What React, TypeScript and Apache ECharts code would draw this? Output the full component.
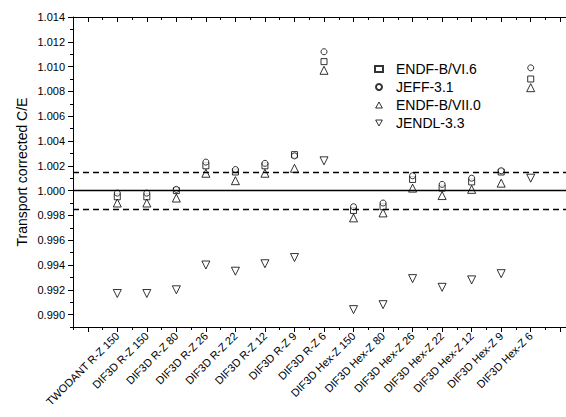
import React, { useEffect, useRef } from "react";
import * as echarts from "echarts";

const categories = [
  "TWODANT R-Z 150",
  "DIF3D R-Z 150",
  "DIF3D R-Z 80",
  "DIF3D R-Z 26",
  "DIF3D R-Z 22",
  "DIF3D R-Z 12",
  "DIF3D R-Z 9",
  "DIF3D R-Z 6",
  "DIF3D Hex-Z 150",
  "DIF3D Hex-Z 80",
  "DIF3D Hex-Z 26",
  "DIF3D Hex-Z 22",
  "DIF3D Hex-Z 12",
  "DIF3D Hex-Z 9",
  "DIF3D Hex-Z 6",
];

const endfb6 = [0.9995, 0.9995, 1.0, 1.002, 1.0015, 1.002, 1.0029, 1.0104, 0.9984, 0.9987, 1.0009, 1.0002, 1.0007, 1.0015, 1.009];
const jeff31 = [0.9998, 0.9998, 1.0001, 1.0023, 1.0017, 1.0022, 1.0028, 1.0112, 0.9987, 0.999, 1.0012, 1.0005, 1.001, 1.0016, 1.0099];
const endfb7 = [0.999, 0.999, 0.9994, 1.0014, 1.0008, 1.0014, 1.0018, 1.0097, 0.9978, 0.9982, 1.0002, 0.9996, 1.0001, 1.0006, 1.0083];
const jendl33 = [0.9917, 0.9917, 0.992, 0.994, 0.9935, 0.9941, 0.9946, 1.0024, 0.9904, 0.9908, 0.9929, 0.9922, 0.9928, 0.9933, 1.001];

const yLabelValues = [0.99, 0.992, 0.994, 0.996, 0.998, 1.0, 1.002, 1.004, 1.006, 1.008, 1.01, 1.012, 1.014];
const xLabelValues = [1, 2, 3, 4, 5, 6, 7, 8, 9, 10, 11, 12, 13, 14, 15];

const referenceLine = 1.0;
const bandLines = [1.0015, 0.9985];

const FONT = "'Liberation Sans', Arial, sans-serif";

export default function App() {
  const ref = useRef<HTMLDivElement>(null);
  useEffect(() => {
    if (!ref.current) return;
    const chart = echarts.init(ref.current, undefined, { renderer: "svg" });
    const black = "#000";
    const xMin = -0.5;
    const xMax = 16.5;
    const mk = (vals: number[]) => vals.map((v, i) => [i + 1, v]);
    const hLine = (y: number, type: any, width: number) => [
      { coord: [xMin, y], lineStyle: { color: black, width, type } },
      { coord: [xMax, y] },
    ];
    const baseX = {
      type: "value",
      min: xMin,
      max: xMax,
      interval: 1,
      splitLine: { show: false },
      minorSplitLine: { show: false },
    };
    const option: any = {
      animation: false,
      backgroundColor: "#fff",
      textStyle: { fontFamily: FONT },
      grid: { left: 73, top: 17, width: 502, height: 310, containLabel: false, outerBoundsMode: "none" },
      legend: {
        orient: "vertical",
        left: 369,
        top: 57,
        itemWidth: 8,
        itemHeight: 6,
        itemGap: 4,
        textStyle: { fontSize: 14, color: black, fontFamily: FONT, lineHeight: 14, padding: [0, 0, 0, 8] },
        data: [
          { name: "ENDF-B/VI.6" },
          { name: "JEFF-3.1" },
          { name: "ENDF-B/VII.0", icon: "path://M5,0L10,9L0,9Z", itemStyle: { color: "#fff", borderColor: black, borderWidth: 1 } },
          { name: "JENDL-3.3", icon: "path://M0,0L10,0L5,9Z", itemStyle: { color: "#fff", borderColor: black, borderWidth: 1 } },
        ],
      },
      xAxis: [
        {
          ...baseX,
          position: "bottom",
          axisLine: { show: true, onZero: false, lineStyle: { color: black, width: 1 } },
          axisTick: { show: true, length: 3, inside: false, lineStyle: { color: black, width: 1 } },
          minorTick: { show: true, splitNumber: 2, length: 5, lineStyle: { color: black, width: 1 } },
          axisLabel: {
            show: true,
            customValues: xLabelValues,
            rotate: 45,
            margin: 7,
            fontSize: 11,
            color: black,
            fontFamily: FONT,
            formatter: (v: number) => categories[Math.round(v) - 1] ?? "",
          },
        },
        {
          ...baseX,
          position: "top",
          axisLine: { show: true, onZero: false, lineStyle: { color: black, width: 1 } },
          axisTick: { show: true, length: 3, inside: true, lineStyle: { color: black, width: 1 } },
          minorTick: { show: true, splitNumber: 2, length: 5, lineStyle: { color: black, width: 1 } },
          axisLabel: { show: false },
        },
      ],
      yAxis: [
        {
          type: "value",
          min: 0.989,
          max: 1.014,
          interval: 0.002,
          position: "left",
          splitLine: { show: false },
          minorSplitLine: { show: false },
          name: "Transport corrected C/E",
          nameLocation: "middle",
          nameGap: 44,
          nameMoveOverlap: false,
          nameTextStyle: { fontSize: 14, color: black, fontFamily: FONT },
          axisLine: { show: true, onZero: false, lineStyle: { color: black, width: 1 } },
          axisTick: { show: true, length: 3, inside: false, lineStyle: { color: black, width: 1 } },
          minorTick: { show: true, splitNumber: 2, length: 5, lineStyle: { color: black, width: 1 } },
          axisLabel: {
            show: true,
            customValues: yLabelValues,
            margin: 8,
            fontSize: 11,
            color: black,
            fontFamily: FONT,
            formatter: (v: number) => v.toFixed(3),
          },
        },
      ],
      series: [
        {
          name: "ENDF-B/VI.6",
          type: "scatter",
          symbol: "rect",
          symbolSize: 6,
          itemStyle: { color: "#fff", borderColor: black, borderWidth: 1 },
          data: mk(endfb6),
          markLine: {
            silent: true,
            precision: 6,
            symbol: ["none", "none"],
            label: { show: false },
            data: [
              hLine(referenceLine, "solid", 1.4),
              ...bandLines.map((v) => hLine(v, [6, 4], 1.3)),
            ],
          },
        },
        {
          name: "JEFF-3.1",
          type: "scatter",
          symbol: "circle",
          symbolSize: 6,
          itemStyle: { color: "#fff", borderColor: black, borderWidth: 1 },
          data: mk(jeff31),
        },
        {
          name: "ENDF-B/VII.0",
          type: "scatter",
          symbol: "triangle",
          symbolSize: 8,
          itemStyle: { color: "#fff", borderColor: black, borderWidth: 1 },
          data: mk(endfb7),
        },
        {
          name: "JENDL-3.3",
          type: "scatter",
          symbol: "triangle",
          symbolRotate: 180,
          symbolSize: 8,
          itemStyle: { color: "#fff", borderColor: black, borderWidth: 1 },
          data: mk(jendl33),
        },
      ],
    };
    chart.setOption(option);
    return () => chart.dispose();
  }, []);
  return (
    <div
      ref={ref}
      style={{ position: "fixed", left: 0, top: 0, width: 566, height: 417, background: "#fff" }}
    />
  );
}
